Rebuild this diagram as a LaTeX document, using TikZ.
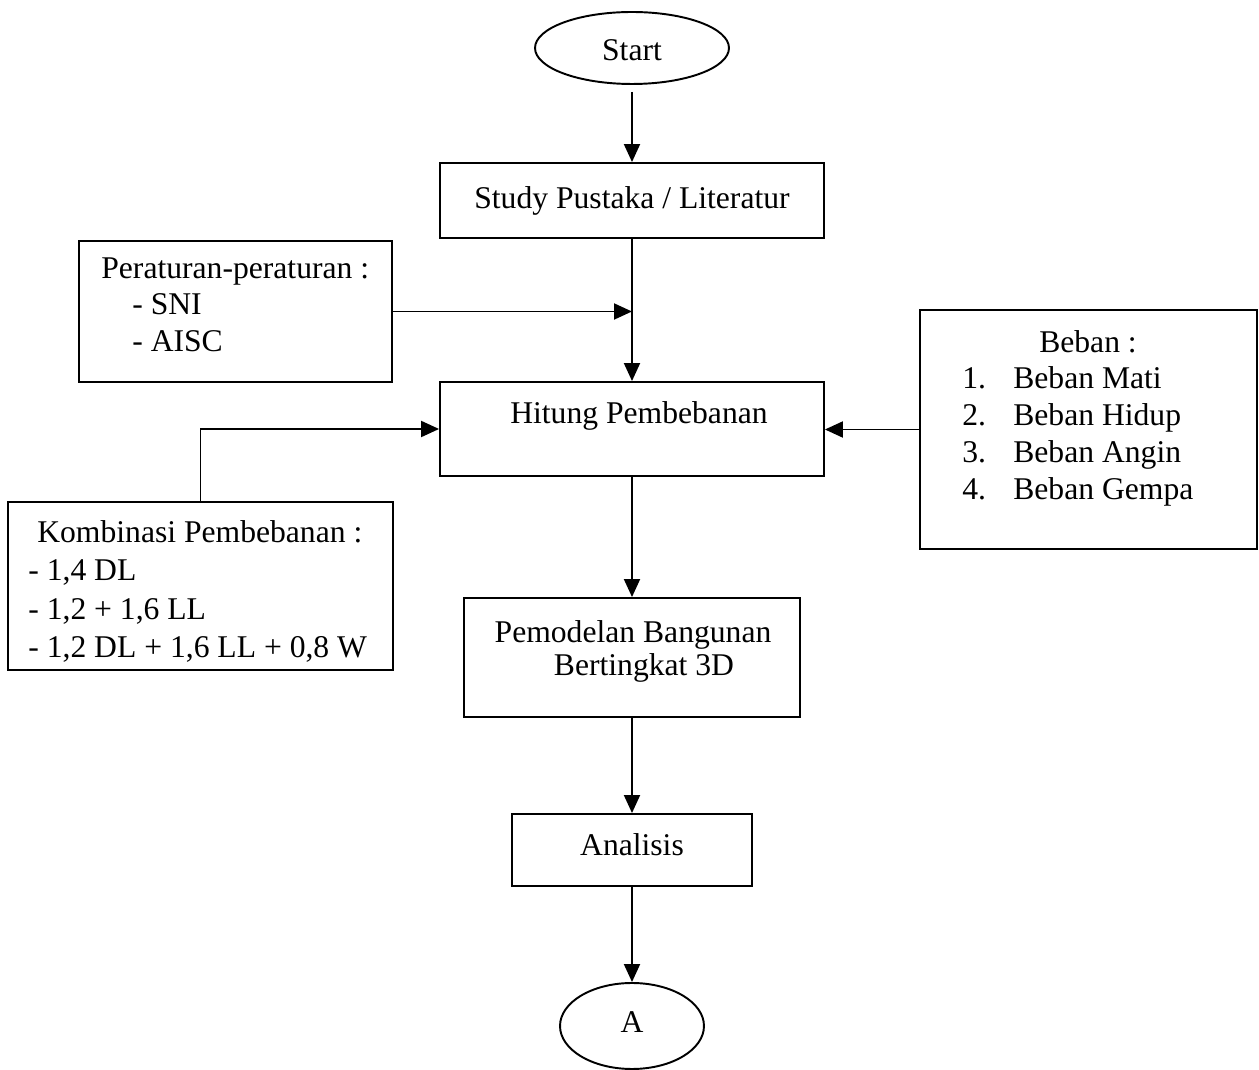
\documentclass[tikz,border=0pt]{standalone}
\usepackage{fontspec}
\setmainfont{Liberation Serif}
\usetikzlibrary{shapes.geometric,arrows.meta}
\begin{document}
\begin{tikzpicture}[x=0.02cm,y=-0.02cm,
  font=\fontsize{18}{21}\selectfont,
  box/.style={draw,line width=1.1pt,rectangle,inner sep=0pt},
  oval/.style={draw,line width=1.1pt,ellipse,inner sep=0pt},
  txt/.style={inner sep=0pt},
  flow/.style={line width=1.1pt,-{Triangle[length=0.36cm,width=0.32cm]}}]
\useasboundingbox (0,0) rectangle (1259,1070);
% main column
\node[oval,minimum width=3.88cm,minimum height=1.44cm] (start) at (632,48) {};
\node[txt,anchor=base] (starttxt) at (632,61) {Start};
\node[box,minimum width=7.68cm,minimum height=1.5cm] (study) at (632,200.5) {Study Pustaka / Literatur};
\node[box,minimum width=7.68cm,minimum height=1.88cm] (hitung) at (632,429) {};
\node[txt,anchor=base] (hitungtxt) at (639,423.5) {Hitung Pembebanan};
\node[box,minimum width=6.72cm,minimum height=2.38cm] (model) at (632,657.5) {};
\node[txt,anchor=base] (modeltxta) at (633,642.5) {Pemodelan Bangunan};
\node[txt,anchor=base] (modeltxtb) at (644,676) {Bertingkat 3D};
\node[box,minimum width=4.8cm,minimum height=1.44cm] (analisis) at (632,850) {};
\node[txt,anchor=base] (analisistxt) at (632,855.5) {Analisis};
\node[oval,minimum width=2.88cm,minimum height=1.72cm] (A) at (632,1026) {};
\node[txt,anchor=base] (Atxt) at (632,1032.5) {A};
% side boxes
\node[box,minimum width=6.26cm,minimum height=2.82cm] (aturan) at (235.5,311.5) {};
\node[txt,anchor=north west,align=left,font=\fontsize{18}{20.7}\selectfont] (aturantxt) at (101,257.5)
  {Peraturan-peraturan :\\\hspace*{0.62cm}- SNI\\\hspace*{0.62cm}- AISC};
\node[box,minimum width=6.74cm,minimum height=4.78cm] (beban) at (1088.5,429.5) {};
\node[txt] (bebantxt) at (1088,342) {Beban :};
\node[txt,anchor=north west,align=left] (bebanlist) at (962,366.5)
  {\makebox[1.02cm][l]{1.}Beban Mati\\\makebox[1.02cm][l]{2.}Beban Hidup\\
   \makebox[1.02cm][l]{3.}Beban Angin\\\makebox[1.02cm][l]{4.}Beban Gempa};
\node[box,minimum width=7.7cm,minimum height=3.36cm] (kombi) at (200.5,586) {};
\node[txt,anchor=north west,align=left,font=\fontsize{18}{21.7}\selectfont] (kombitxt) at (28,520.5)
  {\hspace*{0.18cm}Kombinasi Pembebanan :\\- 1,4 DL\\- 1,2 + 1,6 LL\\- 1,2 DL + 1,6 LL + 0,8 W};
% connectors
\draw[flow,shorten <=0.14cm] (start) -- (study);
\draw[flow] (study) -- (hitung);
\draw[flow] (aturan.east) -- (aturan.east -| study.south);
\draw[flow] (beban.west) -- (beban.west -| hitung.east);
\draw[flow] (kombi.north) |- (hitung.west);
\draw[flow] (hitung) -- (model);
\draw[flow] (model) -- (analisis);
\draw[flow] (analisis) -- (A);
\end{tikzpicture}
\end{document}
